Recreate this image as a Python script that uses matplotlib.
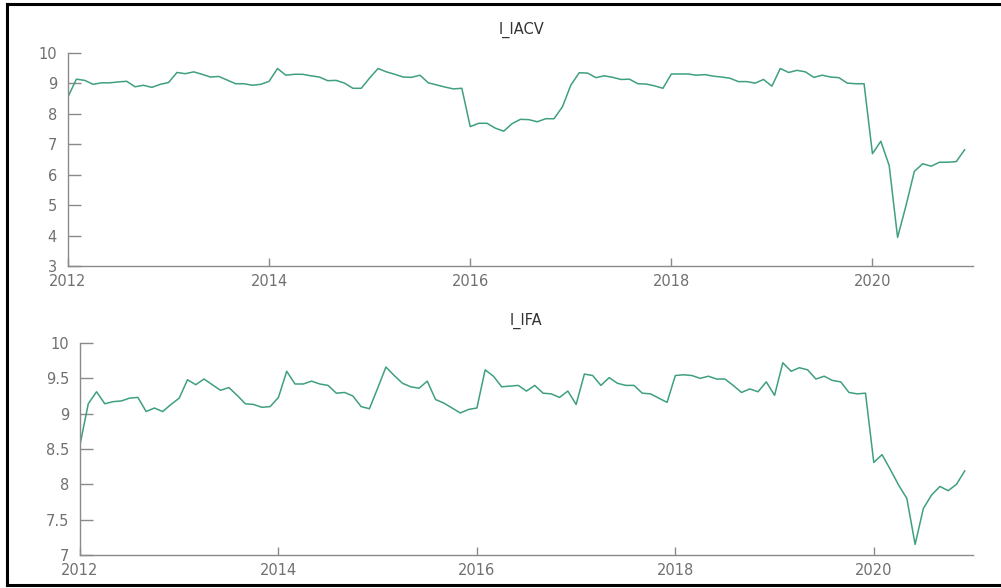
import numpy as np
import matplotlib
matplotlib.use("Agg")
import matplotlib.pyplot as plt
from matplotlib.lines import Line2D
from matplotlib.ticker import FormatStrFormatter

# monthly series, 2012:01 - 2020:12
start_year = 2012
l_iacv = [
    8.56, 9.14, 9.10, 8.97, 9.02, 9.02, 9.05, 9.07, 8.89, 8.94, 8.87, 8.97,
    9.03, 9.36, 9.32, 9.38, 9.30, 9.21, 9.23, 9.11, 8.99, 8.99, 8.94, 8.97,
    9.07, 9.49, 9.27, 9.30, 9.30, 9.25, 9.21, 9.09, 9.10, 9.01, 8.84, 8.84,
    9.18, 9.49, 9.38, 9.30, 9.21, 9.20, 9.27, 9.02, 8.95, 8.88, 8.82, 8.84,
    7.58, 7.69, 7.69, 7.53, 7.43, 7.68, 7.82, 7.81, 7.74, 7.84, 7.84, 8.23,
    8.94, 9.35, 9.34, 9.19, 9.25, 9.20, 9.13, 9.14, 8.99, 8.98, 8.92, 8.84,
    9.31, 9.31, 9.31, 9.27, 9.29, 9.24, 9.21, 9.17, 9.06, 9.06, 9.01, 9.13,
    8.91, 9.49, 9.36, 9.43, 9.38, 9.20, 9.27, 9.21, 9.19, 9.01, 8.99, 8.99,
    6.69, 7.10, 6.30, 3.94, 4.98, 6.11, 6.36, 6.28, 6.41, 6.41, 6.43, 6.82,
]
l_ifa = [
    8.56, 9.14, 9.31, 9.14, 9.17, 9.18, 9.22, 9.23, 9.03, 9.08, 9.03, 9.13,
    9.22, 9.48, 9.41, 9.49, 9.41, 9.33, 9.37, 9.26, 9.14, 9.13, 9.09, 9.10,
    9.23, 9.60, 9.42, 9.42, 9.46, 9.42, 9.40, 9.29, 9.30, 9.25, 9.10, 9.07,
    9.36, 9.66, 9.54, 9.43, 9.38, 9.36, 9.46, 9.20, 9.15, 9.08, 9.01, 9.06,
    9.08, 9.62, 9.53, 9.38, 9.39, 9.40, 9.32, 9.40, 9.29, 9.28, 9.23, 9.32,
    9.13, 9.56, 9.54, 9.40, 9.51, 9.43, 9.40, 9.40, 9.29, 9.28, 9.22, 9.16,
    9.54, 9.55, 9.54, 9.50, 9.53, 9.49, 9.49, 9.40, 9.30, 9.35, 9.31, 9.45,
    9.26, 9.72, 9.60, 9.65, 9.62, 9.49, 9.53, 9.47, 9.45, 9.30, 9.28, 9.29,
    8.31, 8.42, 8.21, 7.99, 7.80, 7.15, 7.66, 7.85, 7.97, 7.91, 8.00, 8.19,
]
year_ticks = [2012, 2014, 2016, 2018, 2020]
iacv_ticks = [3, 4, 5, 6, 7, 8, 9, 10]
ifa_ticks = [7, 7.5, 8, 8.5, 9, 9.5, 10]

LINE = "#3f9f80"
GREY = "#8a8a8a"
TEXT = "#707070"

W, H = 1001, 588
fig = plt.figure(figsize=(W / 100, H / 100), dpi=100)


def px_axes(left, top, right, bottom):
    return fig.add_axes([left / W, 1 - bottom / H, (right - left) / W, (bottom - top) / H])


def style(ax, yticks, fmt):
    for side in ("top", "right"):
        ax.spines[side].set_visible(False)
    for side in ("left", "bottom"):
        ax.spines[side].set_color(GREY)
        ax.spines[side].set_linewidth(1.0)
    ax.set_xlim(2012, 2021)
    ax.set_ylim(yticks[0], yticks[-1])
    ax.set_xticks(year_ticks)
    ax.set_yticks(yticks)
    ax.yaxis.set_major_formatter(FormatStrFormatter(fmt))
    ax.tick_params(axis="y", direction="in", length=9, width=1, color=GREY,
                   labelsize=10.5, labelcolor=TEXT, pad=8)
    ax.tick_params(axis="x", direction="in", length=6, width=1, color=GREY,
                   labelsize=10.5, labelcolor=TEXT, pad=6)
    for lab in ax.get_yticklabels():
        lab.set_fontfamily("DejaVu Sans")


x = start_year + np.arange(len(l_iacv)) / 12.0

ax1 = px_axes(68, 53, 973, 266)
ax1.plot(x, l_iacv, color=LINE, lw=1.1)
style(ax1, iacv_ticks, "%g")
fig.text(521 / W, 1 - 30 / H, "l_IACV", ha="center", va="center",
         fontsize=10.5, color="#333333")

ax2 = px_axes(80, 343, 973, 555)
ax2.plot(x, l_ifa, color=LINE, lw=1.1)
style(ax2, ifa_ticks, "%g")
fig.text(526 / W, 1 - 321 / H, "l_IFA", ha="center", va="center",
         fontsize=10.5, color="#333333")

# black frame on left, top and bottom
frame = dict(color="black", lw=2.2, transform=fig.transFigure)
fig.add_artist(Line2D([7 / W, 7 / W], [1 - 4 / H, 1 - 585 / H], **frame))
fig.add_artist(Line2D([7 / W, 1.0], [1 - 4 / H, 1 - 4 / H], **frame))
fig.add_artist(Line2D([7 / W, 1.0], [1 - 585 / H, 1 - 585 / H], **frame))

fig.savefig("out.png", dpi=100)
